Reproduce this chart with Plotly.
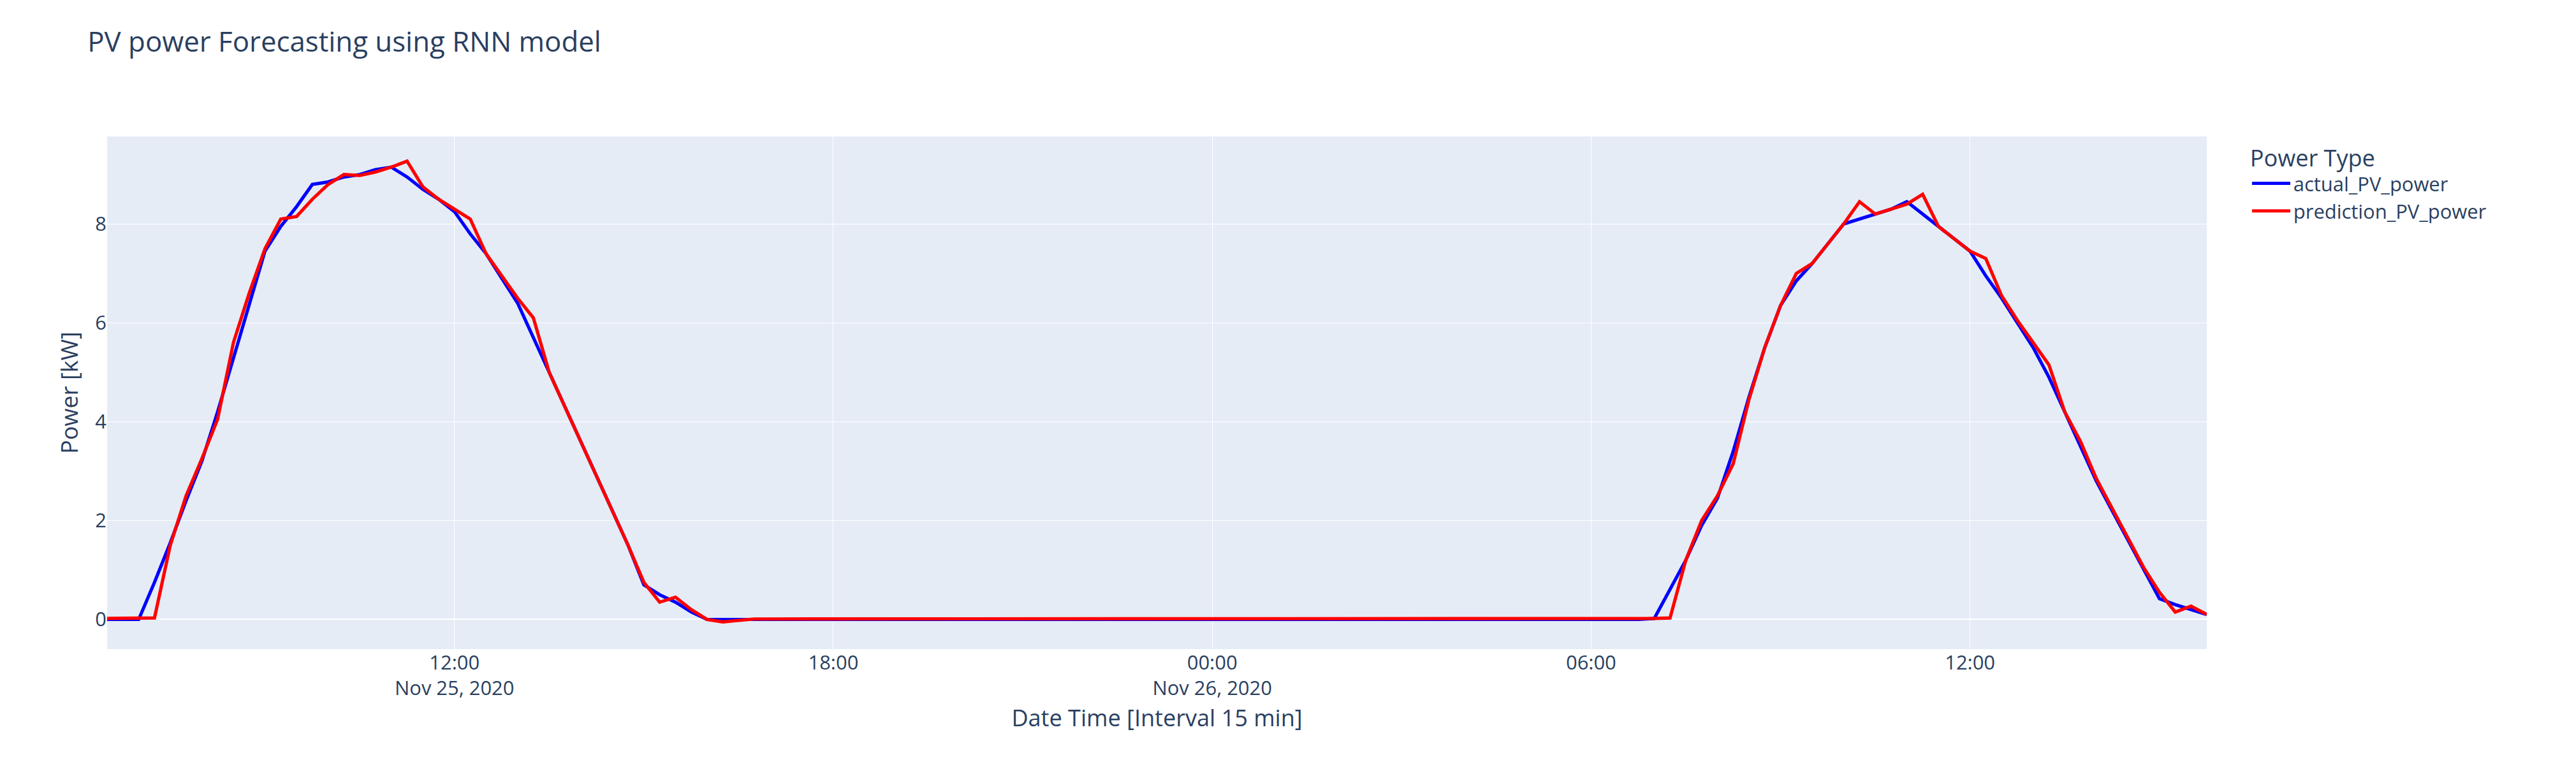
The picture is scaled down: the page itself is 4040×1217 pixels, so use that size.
import plotly.graph_objects as go
import pandas as pd

START = "2020-11-25 06:30"
DAY1_ACTUAL = [0.0, 0.0, 0.0, 0.75, 1.55, 2.4, 3.2, 4.2, 5.3, 6.4, 7.45, 7.95, 8.35, 8.8, 8.85, 8.95,
               9.0, 9.1, 9.15, 8.95, 8.7, 8.5, 8.25, 7.8, 7.4, 6.9, 6.4, 5.7, 5.0, 4.3, 3.6, 2.9,
               2.2, 1.5, 0.7, 0.5, 0.35, 0.15, 0.0, 0.0, 0.0]
DAY1_PRED = [0.02, 0.02, 0.02, 0.03, 1.5, 2.5, 3.25, 4.05, 5.6, 6.6, 7.5, 8.1, 8.15, 8.5, 8.8, 9.0,
             8.98, 9.05, 9.15, 9.27, 8.75, 8.5, 8.3, 8.1, 7.4, 6.95, 6.5, 6.1, 5.0, 4.3, 3.6, 2.9,
             2.2, 1.5, 0.75, 0.35, 0.45, 0.2, 0.0, -0.05, -0.02]
NIGHT_ACTUAL = [0.0] * 57
NIGHT_PRED = [0.01] * 57
DAY2_ACTUAL = [0.02, 0.6, 1.2, 1.9, 2.45, 3.4, 4.5, 5.5, 6.35, 6.85, 7.2, 7.6, 8.0, 8.1, 8.2, 8.3,
               8.45, 8.2, 7.95, 7.7, 7.45, 6.95, 6.5, 6.0, 5.5, 4.9, 4.2, 3.5, 2.8, 2.2, 1.6, 1.0,
               0.42, 0.3, 0.2, 0.1]
DAY2_PRED = [0.02, 0.03, 1.2, 2.0, 2.5, 3.15, 4.45, 5.5, 6.35, 7.0, 7.2, 7.6, 8.0, 8.45, 8.2, 8.3,
             8.4, 8.6, 7.95, 7.7, 7.45, 7.3, 6.55, 6.05, 5.6, 5.15, 4.2, 3.6, 2.85, 2.25, 1.65, 1.05,
             0.55, 0.15, 0.27, 0.1]

actual = DAY1_ACTUAL + NIGHT_ACTUAL + DAY2_ACTUAL
pred = DAY1_PRED + NIGHT_PRED + DAY2_PRED
times = pd.date_range(START, periods=len(actual), freq="15min")

S = 2.577
fig = go.Figure()
fig.add_trace(go.Scatter(x=times, y=actual, mode="lines", name="actual_PV_power",
                         line=dict(color="blue", width=2 * S)))
fig.add_trace(go.Scatter(x=times, y=pred, mode="lines", name="prediction_PV_power",
                         line=dict(color="red", width=2 * S)))
fig.update_layout(
    width=4040, height=1217, template="plotly",
    margin=dict(l=160, r=587, t=206, b=207),
    font=dict(size=12 * S),
    title=dict(text="PV power Forecasting using RNN model", x=0.032, y=0.965,
               xanchor="left", yanchor="top", font=dict(size=17 * S)),
    legend=dict(title=dict(text="Power Type", font=dict(size=14 * S)), font=dict(size=12 * S),
                x=1.02, y=1, itemwidth=60),
    xaxis=dict(title=dict(text="Date Time [Interval 15 min]", font=dict(size=14 * S)),
               dtick=6 * 3600 * 1000, tick0="2020-11-25 00:00", tickfont=dict(size=12 * S)),
    yaxis=dict(title=dict(text="Power [kW]", font=dict(size=14 * S)), range=[-0.6, 9.77],
               dtick=2, tickfont=dict(size=12 * S)),
)
fig.write_html("out.html")
